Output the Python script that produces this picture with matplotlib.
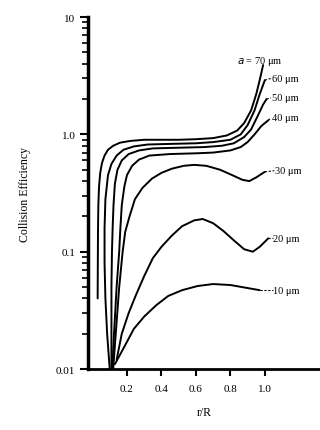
import matplotlib
matplotlib.use("Agg")
import matplotlib.pyplot as plt
from matplotlib.ticker import LogLocator, NullFormatter, FixedLocator, FixedFormatter

plt.rcParams['font.family'] = ['Liberation Serif', 'DejaVu Serif']

# ---- data ----
r70 = [0.030, 0.031, 0.032, 0.034, 0.038, 0.045, 0.055, 0.07, 0.09, 0.12, 0.16, 0.22, 0.30, 0.40, 0.50, 0.60, 0.70, 0.78, 0.84, 0.88, 0.92, 0.95, 0.97, 0.99]
e70 = [0.04, 0.08, 0.15, 0.25, 0.36, 0.47, 0.57, 0.66, 0.74, 0.80, 0.85, 0.88, 0.90, 0.90, 0.90, 0.91, 0.93, 0.98, 1.08, 1.25, 1.6, 2.2, 2.9, 3.9]

r60 = [0.10, 0.085, 0.075, 0.070, 0.070, 0.075, 0.09, 0.11, 0.14, 0.18, 0.24, 0.32, 0.45, 0.60, 0.70, 0.80, 0.86, 0.90, 0.94, 0.97, 1.00]
e60 = [0.01, 0.02, 0.04, 0.08, 0.16, 0.28, 0.45, 0.56, 0.66, 0.74, 0.79, 0.82, 0.83, 0.84, 0.86, 0.90, 1.0, 1.2, 1.6, 2.2, 2.9]

r50 = [0.11, 0.11, 0.11, 0.113, 0.117, 0.122, 0.13, 0.145, 0.17, 0.21, 0.27, 0.35, 0.50, 0.65, 0.75, 0.82, 0.88, 0.92, 0.96, 0.99, 1.01]
e50 = [0.01, 0.02, 0.05, 0.10, 0.16, 0.25, 0.38, 0.50, 0.60, 0.68, 0.73, 0.76, 0.77, 0.78, 0.80, 0.84, 0.95, 1.1, 1.45, 1.8, 2.0]

r40 = [0.115, 0.125, 0.14, 0.155, 0.162, 0.17, 0.185, 0.20, 0.23, 0.27, 0.33, 0.45, 0.60, 0.70, 0.80, 0.86, 0.90, 0.94, 0.98, 1.02]
e40 = [0.01, 0.02, 0.05, 0.10, 0.16, 0.25, 0.36, 0.45, 0.54, 0.61, 0.66, 0.68, 0.69, 0.70, 0.73, 0.78, 0.86, 1.0, 1.18, 1.32]

r30 = [0.12, 0.135, 0.155, 0.175, 0.19, 0.215, 0.246, 0.29, 0.345, 0.40, 0.46, 0.53, 0.59, 0.66, 0.74, 0.81, 0.87, 0.91, 0.95, 1.00]
e30 = [0.01, 0.02, 0.05, 0.10, 0.148, 0.20, 0.28, 0.35, 0.42, 0.47, 0.51, 0.54, 0.55, 0.54, 0.50, 0.45, 0.41, 0.40, 0.43, 0.48]

r20 = [0.14, 0.17, 0.21, 0.25, 0.30, 0.35, 0.40, 0.46, 0.52, 0.59, 0.64, 0.70, 0.76, 0.82, 0.88, 0.93, 0.97, 1.02]
e20 = [0.012, 0.02, 0.03, 0.042, 0.062, 0.088, 0.11, 0.137, 0.165, 0.185, 0.19, 0.175, 0.15, 0.125, 0.105, 0.10, 0.11, 0.13]

r10 = [0.13, 0.19, 0.24, 0.30, 0.37, 0.44, 0.52, 0.61, 0.70, 0.80, 0.90, 0.97]
e10 = [0.011, 0.016, 0.022, 0.028, 0.035, 0.042, 0.047, 0.051, 0.053, 0.052, 0.049, 0.047]

curves_r = [r70, r60, r50, r40, r30, r20, r10]
curves_e = [e70, e60, e50, e40, e30, e20, e10]
labels = ["$a$ = 70 μm", "60 μm", "50 μm", "40 μm", "30 μm", "20 μm", "10 μm"]
label_r = [0.84, 1.04, 1.04, 1.04, 1.06, 1.05, 1.05]
label_e = [4.3, 3.0, 2.05, 1.38, 0.49, 0.13, 0.047]

xticks = [0.2, 0.4, 0.6, 0.8, 1.0]
xticklabels = ["0.2", "0.4", "0.6", "0.8", "1.0"]
yticks = [0.01, 0.1, 1.0, 10]
yticklabels = ["0.01", "0.1", "1.0", "10"]

# ---- figure ----
fig = plt.figure(figsize=(3.2, 4.31), dpi=100)
ax = fig.add_axes([0.275, 0.1415, 0.725, 0.8165])

for r, e in zip(curves_r, curves_e):
    ax.plot(r, e, color='black', lw=1.4, solid_capstyle='round')
for lx, ly, lab in zip(label_r, label_e, labels):
    ax.text(lx, ly, lab, fontsize=7.5, va='center', ha='left', color='black')
# short connecting dashes between curve ends and labels
for r, e, lx, ly in zip(curves_r[1:], curves_e[1:], label_r[1:], label_e[1:]):
    ax.plot([r[-1], lx - 0.005], [e[-1], ly], color='black', lw=0.8, ls=(0, (2, 1.5)))

ax.set_yscale('log')
ax.set_xlim(-0.026, 1.32)
ax.set_ylim(0.01, 10)

ax.xaxis.set_major_locator(FixedLocator(xticks))
ax.xaxis.set_major_formatter(FixedFormatter(xticklabels))
ax.yaxis.set_major_locator(FixedLocator(yticks))
ax.yaxis.set_major_formatter(FixedFormatter(yticklabels))
ax.yaxis.set_minor_locator(LogLocator(base=10, subs=range(2, 10)))
ax.yaxis.set_minor_formatter(NullFormatter())

ax.spines['top'].set_visible(False)
ax.spines['right'].set_visible(False)
ax.spines['left'].set_linewidth(2.5)
ax.spines['bottom'].set_linewidth(2.0)
ax.tick_params(axis='y', which='major', direction='out', length=6, width=1.5, labelsize=8, pad=3)
ax.tick_params(axis='y', which='minor', direction='out', length=4, width=1.2)
ax.tick_params(axis='x', which='major', direction='out', length=5, width=1.5, labelsize=8, pad=6)

ax.set_xlabel("r/R", fontsize=8.5, labelpad=9)
ax.set_ylabel("Collision Efficiency", fontsize=8.5, labelpad=18)

fig.savefig("out.png", dpi=100)
